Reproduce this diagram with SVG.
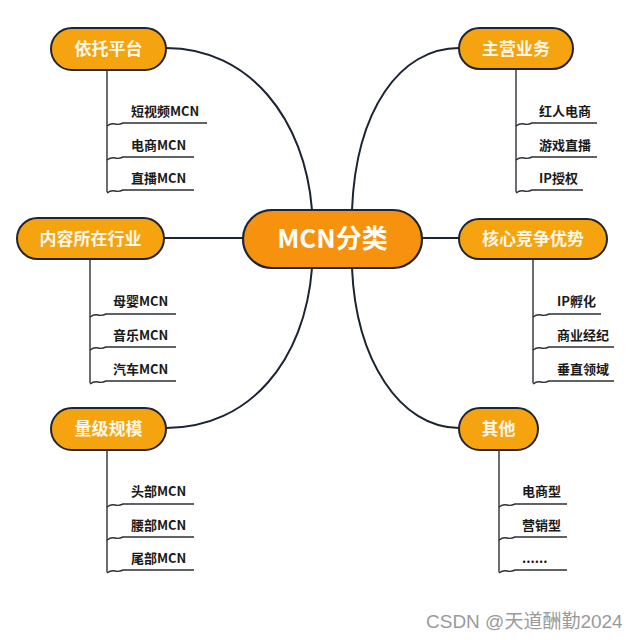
<svg xmlns="http://www.w3.org/2000/svg" width="640" height="640" viewBox="0 0 640 640">
<style>
.node{fill:#F5A30F;stroke:#1E2533;stroke-width:2}
.center{fill:#F7920E;stroke:#1E2533;stroke-width:2.2}
.nt{font-family:"Noto Sans CJK SC","Noto Sans",sans-serif;font-weight:700;font-size:17px;fill:#FFF8E8;text-anchor:middle}
.ct{font-family:"Noto Sans CJK SC","Noto Sans",sans-serif;font-weight:700;font-size:26px;fill:#FFFFFF;text-anchor:middle}
.lt{font-family:"Noto Sans CJK SC","Noto Sans",sans-serif;font-weight:700;font-size:13px;fill:#1a1a1a}
.conn{fill:none;stroke:#1A2433;stroke-width:2}
.br{fill:none;stroke:#2b2f36;stroke-width:1.4}
.wm{font-family:"Liberation Sans","Noto Sans CJK SC",sans-serif;font-size:19px;fill:#9a9a9a}
</style>
<rect width="640" height="640" fill="#ffffff"/>
<g id="connectors">
<path class="conn" d="M166,48 C250,48 305,120 312,210"/>
<path class="conn" d="M459,48 C400,48 356,110 352,210"/>
<path class="conn" d="M164,238 H243"/>
<path class="conn" d="M422,238 H459"/>
<path class="conn" d="M312,268 C305,360 250,428 166,428"/>
<path class="conn" d="M352,268 C356,360 400,428 459,428"/>
</g>
<g id="center">
<rect class="center" x="243" y="210" width="179" height="58" rx="29"/>
<text class="ct" x="332.5" y="248">MCN分类</text>
</g>
<g id="n1">
<rect class="node" x="51" y="28" width="115" height="42" rx="21"/>
<text class="nt" x="108.5" y="55">依托平台</text>
<path class="br" d="M107,70 V192"/>
<path class="br" d="M107,126 q4,-3 8,-2 q4,1 8,-1 H207"/>
<path class="br" d="M107,160 q4,-3 8,-2 q4,1 8,-1 H194"/>
<path class="br" d="M107,193 q4,-3 8,-2 q4,1 8,-1 H194"/>
<text class="lt" x="131" y="116">短视频MCN</text>
<text class="lt" x="131" y="150">电商MCN</text>
<text class="lt" x="131" y="183">直播MCN</text>
</g>
<g id="n2">
<rect class="node" x="459" y="28" width="114" height="41" rx="20.5"/>
<text class="nt" x="516" y="54.5">主营业务</text>
<path class="br" d="M516,69 V192"/>
<path class="br" d="M516,126 q4,-3 8,-2 q4,1 8,-1 H597"/>
<path class="br" d="M516,160 q4,-3 8,-2 q4,1 8,-1 H597"/>
<path class="br" d="M516,193 q4,-3 8,-2 q4,1 8,-1 H583"/>
<text class="lt" x="539" y="116">红人电商</text>
<text class="lt" x="539" y="150">游戏直播</text>
<text class="lt" x="539" y="183">IP授权</text>
</g>
<g id="n3">
<rect class="node" x="17" y="218" width="147" height="41" rx="20.5"/>
<text class="nt" x="90.5" y="244.5">内容所在行业</text>
<path class="br" d="M90,259 V383"/>
<path class="br" d="M90,317 q4,-3 8,-2 q4,1 8,-1 H176"/>
<path class="br" d="M90,350 q4,-3 8,-2 q4,1 8,-1 H176"/>
<path class="br" d="M90,384 q4,-3 8,-2 q4,1 8,-1 H176"/>
<text class="lt" x="113" y="306">母婴MCN</text>
<text class="lt" x="113" y="340">音乐MCN</text>
<text class="lt" x="113" y="374">汽车MCN</text>
</g>
<g id="n4">
<rect class="node" x="459" y="219" width="148" height="40" rx="20"/>
<text class="nt" x="533" y="245">核心竞争优势</text>
<path class="br" d="M533,259 V383"/>
<path class="br" d="M533,317 q4,-3 8,-2 q4,1 8,-1 H601"/>
<path class="br" d="M533,350 q4,-3 8,-2 q4,1 8,-1 H614"/>
<path class="br" d="M533,384 q4,-3 8,-2 q4,1 8,-1 H614"/>
<text class="lt" x="557" y="306">IP孵化</text>
<text class="lt" x="557" y="340">商业经纪</text>
<text class="lt" x="557" y="374">垂直领域</text>
</g>
<g id="n5">
<rect class="node" x="51" y="408" width="115" height="42" rx="21"/>
<text class="nt" x="108.5" y="435">量级规模</text>
<path class="br" d="M107,450 V572"/>
<path class="br" d="M107,507 q4,-3 8,-2 q4,1 8,-1 H194"/>
<path class="br" d="M107,540 q4,-3 8,-2 q4,1 8,-1 H194"/>
<path class="br" d="M107,573 q4,-3 8,-2 q4,1 8,-1 H194"/>
<text class="lt" x="131" y="496">头部MCN</text>
<text class="lt" x="131" y="530">腰部MCN</text>
<text class="lt" x="131" y="563">尾部MCN</text>
</g>
<g id="n6">
<rect class="node" x="459" y="408" width="79" height="42" rx="21"/>
<text class="nt" x="498.5" y="435">其他</text>
<path class="br" d="M499,450 V572"/>
<path class="br" d="M499,507 q4,-3 8,-2 q4,1 8,-1 H567"/>
<path class="br" d="M499,540 q4,-3 8,-2 q4,1 8,-1 H567"/>
<path class="br" d="M499,573 q4,-3 8,-2 q4,1 8,-1 H567"/>
<text class="lt" x="522" y="496">电商型</text>
<text class="lt" x="522" y="530">营销型</text>
<text class="lt" x="522" y="563">......</text>
</g>
<text class="wm" x="426" y="628">CSDN @天道酬勤2024</text>
</svg>
